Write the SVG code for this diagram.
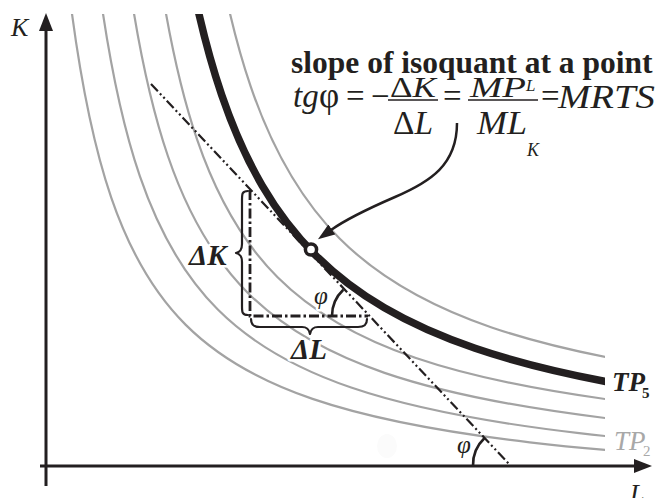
<svg xmlns="http://www.w3.org/2000/svg" xmlns:xlink="http://www.w3.org/1999/xlink" width="659" height="498" viewBox="0 0 659 498">
<style>
.f{font-family:"Liberation Serif","Times New Roman",serif;font-size:33px;fill:#231f20}
.it{font-style:italic}
.b{font-weight:bold}
.halo{paint-order:stroke;stroke:#fff;stroke-width:5px;stroke-linejoin:round}
.gray{stroke:#a3a3a3;fill:none}
.thick{stroke:#231f20;fill:none}
.axis{stroke:#231f20;stroke-width:3;fill:none}
.bar{stroke:#231f20;stroke-width:1.6}
.brace{stroke:#231f20;stroke-width:2.2;fill:none;stroke-linecap:round;stroke-linejoin:round}
.angle{stroke:#231f20;stroke-width:2.6;fill:none}
</style>
<defs>
<path id="hyp" fill="none" d="M0.2,5 C0.235765,4.10587 0.280838,3.446913 0.341995,2.92402 C0.403153,2.40113 0.480226,2.015769 0.584804,1.70998 C0.68938,1.404191 0.821174,1.178826 1,1 C1.178826,0.821174 1.404191,0.68938 1.70998,0.584804 C2.015769,0.480226 2.40113,0.403153 2.92402,0.341995 C3.446913,0.280838 4.10587,0.235765 5,0.2"/>
<clipPath id="clipC"><rect x="0" y="14" width="605" height="484"/></clipPath>
<marker id="axArrow" viewBox="0 0 18 14" refX="2" refY="7" markerWidth="18" markerHeight="14" markerUnits="userSpaceOnUse" orient="auto"><path d="M0,0 L18,7 L0,14 z" fill="#231f20"/></marker>
<marker id="ptArrow" viewBox="0 0 17 12" refX="1" refY="6" markerWidth="17" markerHeight="12" markerUnits="userSpaceOnUse" orient="auto"><path d="M0,0 L17,6 L0,12 z" fill="#231f20"/></marker>
</defs>

<g id="isoquants" clip-path="url(#clipC)">
<use id="TP1" href="#hyp" class="gray" transform="translate(6.62,503.5) scale(178.9,-178.9)" stroke-width="0.0123"/>
<use id="TP2" href="#hyp" class="gray" transform="translate(30.02,497.35) scale(187.8,-187.8)" stroke-width="0.01171"/>
<use id="TP3" href="#hyp" class="gray" transform="translate(55.39,485.43) scale(192.5,-192.5)" stroke-width="0.01143"/>
<use id="TP4" href="#hyp" class="gray" transform="translate(83.8,471.1) scale(193.8,-193.8)" stroke-width="0.01135"/>
<use id="TP6" href="#hyp" class="gray" transform="translate(125.4,452.7) scale(214.2,-214.2)" stroke-width="0.01027"/>
<use id="TP5" href="#hyp" class="thick" transform="translate(90,480) scale(225.2,-225.2)" stroke-width="0.0333"/>
</g>

<ellipse cx="387" cy="446" rx="10" ry="12" fill="#fbfbfb"/>

<g id="axes">
<line x1="46" y1="486" x2="46" y2="29" class="axis" marker-end="url(#axArrow)"/>
<line x1="40" y1="466" x2="636" y2="466" class="axis" marker-end="url(#axArrow)"/>
<text x="11" y="36" class="f it" style="font-size:26px">K</text>
<text x="630" y="502" class="f it" style="font-size:26px">L</text>
</g>

<g id="tangent">
<line x1="151" y1="84" x2="510" y2="465" stroke="#231f20" stroke-width="2.2" stroke-dasharray="10 3 2 3 2 3"/>
<path d="M250,190 L250,316 L368,316" fill="none" stroke="#231f20" stroke-width="2.8" stroke-dasharray="10 3 2.5 3"/>
<path class="brace" d="M248,191 C242,191 242,194 242,200 L242,244 C242,250 240,252 236,253 C240,254 242,256 242,262 L242,306 C242,312 242,315 248,315"/>
<path class="brace" d="M251,319 C251,325 254,327 260,327 L302,327 C307,327 309,329 310,334 C311,329 313,327 318,327 L358,327 C364,327 367,325 367,319"/>
<path class="angle" d="M332,316 A36,36 0 0 1 343.3,289.8"/>
<path class="angle" d="M473,466 A37,37 0 0 1 484.6,438"/>
</g>

<g id="labels">
<text x="189" y="265" class="f b it halo" style="font-size:29px">ΔK</text>
<text x="291" y="359" class="f b it halo" style="font-size:29px">ΔL</text>
<text x="314" y="304" class="f it halo" style="font-size:25px">φ</text>
<text x="457" y="453" class="f it halo" style="font-size:25px">φ</text>
</g>

<g id="point">
<circle cx="311" cy="249.5" r="5.6" fill="#fff" stroke="#231f20" stroke-width="3.5"/>
</g>

<g id="connectors">
<path d="M457,123 C457,165 430,182 395,197 C365,210 345,220 331,230" fill="none" stroke="#231f20" stroke-width="2.5" marker-end="url(#ptArrow)"/>
</g>

<g id="formula">
<text x="291" y="73" class="f b" style="font-size:31.5px">slope of isoquant at a point</text>
<text x="293" y="107" class="f it">tg</text>
<text x="319" y="107" class="f" style="font-size:35px">φ</text>
<text x="346" y="107" class="f">=</text>
<text x="371" y="107" class="f">−</text>
<text x="390" y="97" class="f" style="font-size:30px" textLength="46" lengthAdjust="spacingAndGlyphs">Δ<tspan class="it">K</tspan></text>
<line x1="388" y1="100" x2="438" y2="100" class="bar"/>
<text x="393" y="134" class="f" textLength="40" lengthAdjust="spacingAndGlyphs">Δ<tspan class="it">L</tspan></text>
<text x="443" y="107" class="f">=</text>
<text x="470" y="97" class="f it" style="font-size:30px" textLength="56" lengthAdjust="spacingAndGlyphs">MP</text>
<text x="526" y="91" class="f it" style="font-size:17px">L</text>
<line x1="468" y1="100" x2="538" y2="100" class="bar"/>
<text x="477" y="134" class="f it" textLength="50" lengthAdjust="spacingAndGlyphs">ML</text>
<text x="527" y="156" class="f it" style="font-size:18px">K</text>
<text x="541" y="107" class="f">=</text>
<text x="558" y="108" class="f it" textLength="97" lengthAdjust="spacingAndGlyphs">MRTS</text>
</g>

<g id="TP5label">
<text x="612" y="391" class="f b it" style="font-size:27px">TP</text>
<text x="642" y="398" class="f b" style="font-size:15px">5</text>
</g>
<g id="TP2label">
<text x="614" y="450" class="f it" style="font-size:27px;fill:#a8a8a8">TP</text>
<text x="643" y="456" class="f" style="font-size:15px;fill:#a8a8a8">2</text>
</g>
</svg>
